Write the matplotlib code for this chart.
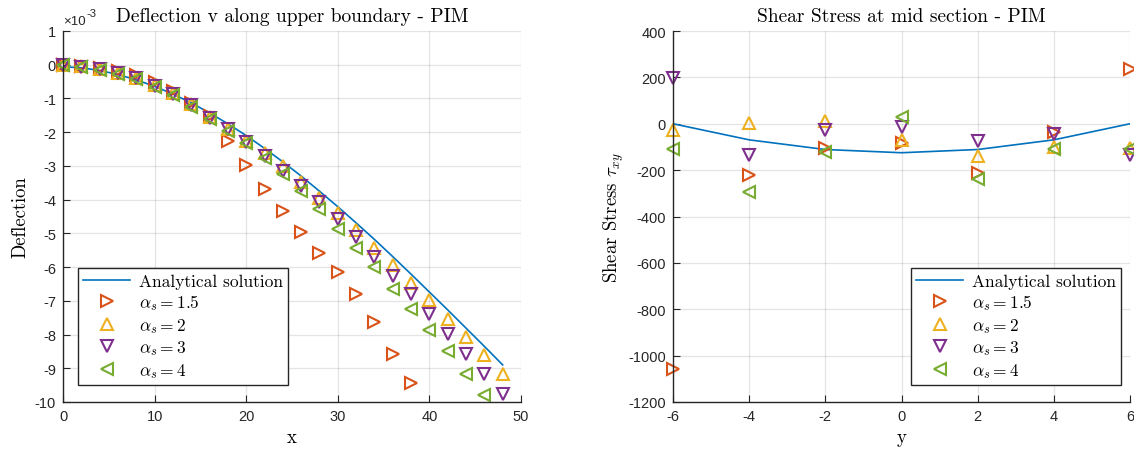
import matplotlib
matplotlib.use("Agg")
import matplotlib.pyplot as plt
from matplotlib.patches import Rectangle
import numpy as np

# ---------------- data ----------------
x_def = [0, 2, 4, 6, 8, 10, 12, 14, 16, 18, 20, 22, 24, 26, 28, 30, 32, 34, 36, 38, 40, 42, 44, 46, 48]
v_analytical = [-0.06, -0.09, -0.17, -0.29, -0.45, -0.64, -0.87, -1.13, -1.43, -1.75, -2.10, -2.48, -2.88,
                -3.30, -3.75, -4.21, -4.69, -5.18, -5.69, -6.21, -6.74, -7.27, -7.81, -8.35, -8.90]
v_a15 = [0.0, -0.03, -0.10, -0.20, -0.29, -0.50, -0.78, -1.12, -1.53, -2.26, -2.97, -3.69, -4.35,
         -4.97, -5.57, -6.16, -6.80, -7.62, -8.57, -9.43, -10.4, -11.5, -12.6, -13.8, -15.0]
v_a2 = [0.0, -0.05, -0.13, -0.24, -0.38, -0.60, -0.85, -1.17, -1.55, -1.92, -2.25, -2.62, -3.00,
        -3.47, -3.94, -4.40, -4.90, -5.42, -5.94, -6.46, -6.98, -7.53, -8.07, -8.61, -9.16]
v_a3 = [0.0, -0.06, -0.14, -0.26, -0.40, -0.62, -0.88, -1.20, -1.57, -1.92, -2.30, -2.70, -3.15,
        -3.59, -4.08, -4.58, -5.12, -5.69, -6.26, -6.80, -7.40, -7.99, -8.58, -9.18, -9.77]
v_a4 = [0.0, -0.07, -0.15, -0.28, -0.43, -0.66, -0.91, -1.24, -1.60, -1.96, -2.33, -2.78, -3.24,
        -3.74, -4.28, -4.86, -5.42, -6.01, -6.66, -7.25, -7.87, -8.50, -9.18, -9.80, -10.45]

y_sec = [-6, -4, -2, 0, 2, 4, 6]
tau_analytical = [0.0, -69.4, -111.1, -125.0, -111.1, -69.4, 0.0]
tau_a15 = [-1057, -223, -104, -82, -212, -35, 234]
tau_a2 = [-29, 2, 11, -70, -140, -101, -104]
tau_a3 = [199, -135, -29, -14, -75, -43, -135]
tau_a4 = [-108, -294, -122, 29, -237, -111, -111]

series_labels = [r'$\alpha_s = 1.5$', r'$\alpha_s = 2$', r'$\alpha_s = 3$', r'$\alpha_s = 4$']

# ---------------- style ----------------
plt.rcParams['font.family'] = ['Liberation Sans', 'DejaVu Sans']
plt.rcParams['mathtext.fontset'] = 'cm'
plt.rcParams['axes.unicode_minus'] = False

c_blue = '#0072BD'
colors = ['#D95319', '#EDB120', '#7E2F8E', '#77AC30']
markers = ['>', '^', 'v', '<']
axcol = '#262626'
serif = 'cmr10'

fig = plt.figure(figsize=(11.34, 4.52), dpi=100)
ax1 = fig.add_axes([63 / 1134, 1 - 403 / 452, 458 / 1134, 371 / 452])
ax2 = fig.add_axes([673 / 1134, 1 - 403 / 452, 457 / 1134, 371 / 452])


def style_axes(ax):
    for s in ['top', 'right']:
        ax.spines[s].set_visible(False)
    for s in ['left', 'bottom']:
        ax.spines[s].set_color(axcol)
        ax.spines[s].set_linewidth(1.0)
    ax.tick_params(direction='in', length=5, width=0.8, colors=axcol, labelsize=10.5, pad=5)
    ax.grid(True, color='#262626', alpha=0.12, linewidth=0.9)
    ax.set_axisbelow(True)


def legend(ax, handles, anchor, loc):
    leg = ax.legend(handles=handles, loc=loc, bbox_to_anchor=anchor, borderaxespad=0,
                    fancybox=False, framealpha=1, edgecolor=axcol,
                    prop={'family': serif, 'size': 12.5}, handlelength=2.7,
                    labelspacing=0.2, borderpad=0.3, handletextpad=0.5)
    leg.get_frame().set_linewidth(1.0)
    return leg


# ---- left: deflection ----
style_axes(ax1)
clip1 = Rectangle((-0.03, 0.0), 1.06, 1.05, transform=ax1.transAxes, facecolor='none', edgecolor='none')
ax1.add_patch(clip1)
h = []
h += ax1.plot(x_def, v_analytical, color=c_blue, lw=1.2, label='Analytical solution')
for vals, c, m, lab in zip([v_a15, v_a2, v_a3, v_a4], colors, markers, series_labels):
    ln, = ax1.plot(x_def, vals, linestyle='none', marker=m, markersize=8.5, mfc='none',
                   mec=c, mew=1.5, label=lab)
    ln.set_clip_path(clip1)
    h.append(ln)
ax1.set_xlim(0, 50)
ax1.set_ylim(-10, 1)
ax1.set_xticks(np.arange(0, 51, 10))
ax1.set_yticks(np.arange(-10, 2, 1))
ax1.set_title('Deflection v along upper boundary - PIM', family=serif, fontsize=14, pad=7)
ax1.set_xlabel('x', family=serif, fontsize=13.5, labelpad=4)
ax1.set_ylabel('Deflection', family=serif, fontsize=13.5, labelpad=4)
ax1.text(0.0, 1.012, '\u00d710', transform=ax1.transAxes, fontsize=9.5, color=axcol,
         ha='left', va='bottom')
ax1.text(0.052, 1.035, '-3', transform=ax1.transAxes, fontsize=8, color=axcol,
         ha='left', va='bottom')
legend(ax1, h, (0.033, 0.046), 'lower left')

# ---- right: shear stress ----
style_axes(ax2)
h2 = []
h2 += ax2.plot(y_sec, tau_analytical, color=c_blue, lw=1.2, label='Analytical solution')
for vals, c, m, lab in zip([tau_a15, tau_a2, tau_a3, tau_a4], colors, markers, series_labels):
    h2 += ax2.plot(y_sec, vals, linestyle='none', marker=m, markersize=8.5, mfc='none',
                   mec=c, mew=1.5, label=lab, clip_on=False)
ax2.set_xlim(-6, 6)
ax2.set_ylim(-1200, 400)
ax2.set_xticks(np.arange(-6, 7, 2))
ax2.set_yticks(np.arange(-1200, 401, 200))
ax2.set_title('Shear Stress at mid section - PIM', family=serif, fontsize=14, pad=7)
ax2.set_xlabel('y', family=serif, fontsize=13.5, labelpad=4)
ax2.set_ylabel(r'Shear Stress $\tau_{xy}$', family=serif, fontsize=13.5, labelpad=2)
legend(ax2, h2, (0.980, 0.046), 'lower right')

fig.savefig('out.png', dpi=100)
